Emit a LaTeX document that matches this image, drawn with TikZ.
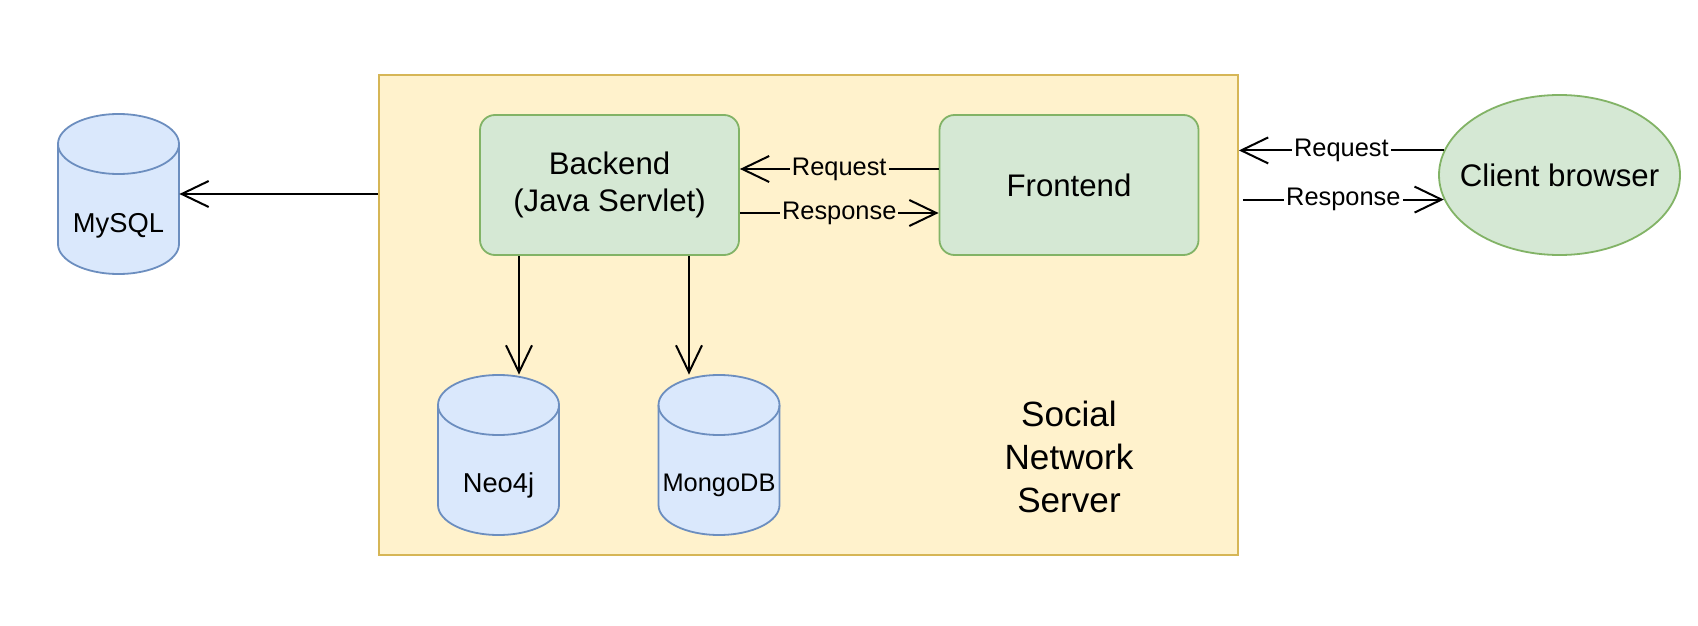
\documentclass[tikz,border=0pt]{standalone}
\usepackage{fontspec}
\setmainfont{Liberation Sans}
\usetikzlibrary{shapes.geometric,arrows.meta,positioning}

\definecolor{srvfill}{HTML}{FFF2CC}
\definecolor{srvline}{HTML}{D6B656}
\definecolor{appfill}{HTML}{D5E8D4}
\definecolor{appline}{HTML}{82B366}
\definecolor{dbfill}{HTML}{DAE8FC}
\definecolor{dbline}{HTML}{6C8EBF}

\tikzset{
  drum/.pic={
    \draw[dbline, fill=dbfill, line width=0.9pt] (-60.5,-50) -- (-60.5,50)
      arc[start angle=180, end angle=360, x radius=30.25pt, y radius=15pt] -- (60.5,-50)
      arc[start angle=0, end angle=180, x radius=30.25pt, y radius=15pt] -- cycle;
    \draw[dbline, line width=0.9pt] (-60.5,-50) arc[start angle=180, end angle=360, x radius=30.25pt, y radius=15pt];
  }
}

\begin{document}
\begin{tikzpicture}[
  x=0.5pt, y=-0.5pt,
  server/.style={rectangle, draw=srvline, fill=srvfill, line width=0.9pt, minimum width=429.5pt, minimum height=240pt},
  appbox/.style={rectangle, rounded corners=7.5pt, draw=appline, fill=appfill, line width=0.9pt, minimum width=129.5pt, minimum height=70pt, align=center, font=\fontsize{15.6}{18.5}\selectfont},
  client/.style={ellipse, draw=appline, fill=appfill, line width=0.9pt, minimum width=120.5pt, minimum height=80pt, inner sep=0pt},
  dbcyl/.style={rectangle, minimum width=60.5pt, minimum height=80pt, inner sep=0pt},
  dbtext/.style={font=\fontsize{13.65}{16}\selectfont, yshift=-15pt},
  flow/.style={-{Straight Barb[length=13.5pt,width=13pt]}, line width=1pt},
  tag/.style={font=\fontsize{12.7}{15}\selectfont, inner sep=1pt}
]
  \fill[white] (0,0) rectangle (1698,626);
  \useasboundingbox (0,0) rectangle (1698,626);

  \node (server) [server] at (808.5,315) {};
  \node (title) [align=center, font=\fontsize{17.55}{21.5}\selectfont] at (1069,457) {Social\\Network\\Server};

  \node (backend) [appbox] at (609.5,185) {Backend\\(Java Servlet)};
  \node (frontend) [appbox] at (1069,185) {Frontend};
  \node (browser) [client, label={[font=\fontsize{15.6}{19}\selectfont]center:Client browser}] at (1559.5,175) {};

  % databases
  \pic at (118.5,194) {drum};
  \node (mysql) [dbcyl, label={[dbtext, yshift=-1pt]center:MySQL}] at (118.5,194) {};
  \pic at (498.5,455) {drum};
  \node (neo4j) [dbcyl, label={[dbtext]center:Neo4j}] at (498.5,455) {};
  \pic at (719,455) {drum};
  \node (mongo) [dbcyl, label={[dbtext, font=\fontsize{12.7}{15}\selectfont]center:MongoDB}] at (719,455) {};

  % backend <-> frontend
  \draw[flow] ([yshift=8pt]frontend.west) -- node[tag, fill=srvfill] {Request} ([yshift=8pt]backend.east);
  \draw[flow] ([yshift=-14pt]backend.east) -- node[tag, fill=srvfill] {Response} ([yshift=-14pt]frontend.west);

  % browser <-> server
  \draw[flow] (browser.168.5) -- node[tag, fill=white] {Request} (server.east |- browser.168.5);
  \draw[flow] ([xshift=2pt]server.east |- browser.192) -- node[tag, fill=white] {Response} (browser.192);

  % server -> databases
  \draw[flow] (server.west |- mysql.east) -- (mysql.east);
  \draw[flow] ([xshift=10.25pt]neo4j.north |- backend.south) -- ([xshift=10.25pt]neo4j.north);
  \draw[flow] ([xshift=-15pt]mongo.north |- backend.south) -- ([xshift=-15pt]mongo.north);
\end{tikzpicture}
\end{document}
